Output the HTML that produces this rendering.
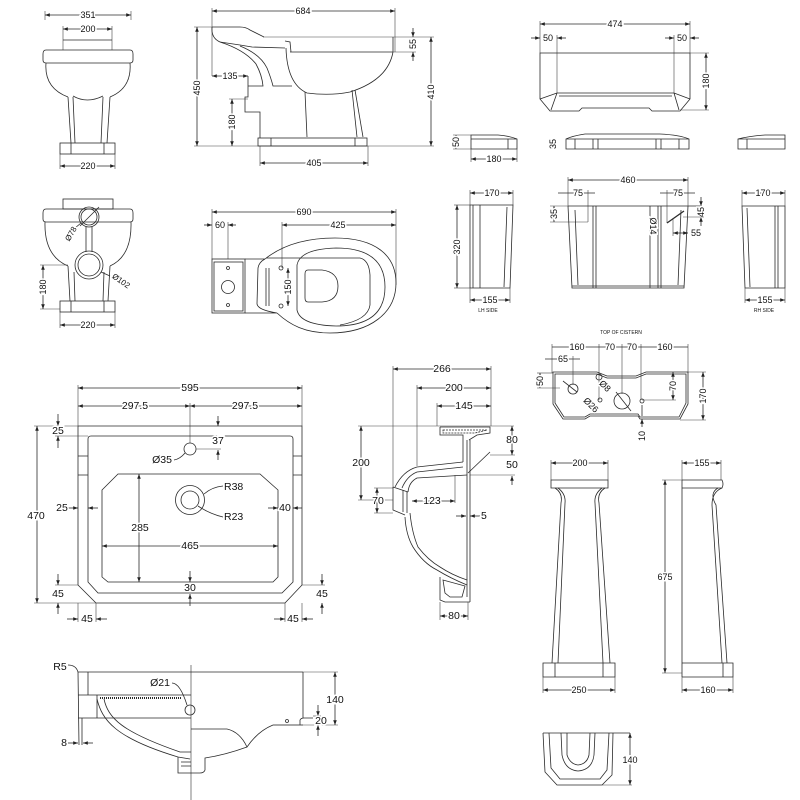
<!DOCTYPE html>
<html><head><meta charset="utf-8"><style>
html,body{margin:0;padding:0;background:#fff}
svg{display:block}
.o,.d,.a,.e{fill:none;stroke:#2a2a2a;stroke-width:.8}
.e{stroke:#444;stroke-width:.6}
.d{marker-start:url(#m);marker-end:url(#m)}
.a{marker-end:url(#m)}
text{font-family:"Liberation Sans",sans-serif;font-size:9px;fill:#111;text-anchor:middle;dominant-baseline:central;paint-order:stroke;stroke:#fff;stroke-width:3px}
.b text{font-size:10.5px}
text.s{font-size:5px;stroke-width:1px}
text.l{text-anchor:start}
</style></head><body>
<svg width="800" height="800" viewBox="0 0 800 800" xmlns="http://www.w3.org/2000/svg">
<defs><marker id="m" viewBox="0 0 8 6" refX="8" refY="3" markerWidth="5" markerHeight="3.6" orient="auto-start-reverse" markerUnits="userSpaceOnUse"><path d="M0,0L8,3L0,6z" fill="#222"/></marker></defs>

<!-- ===== Front WC (top-left) ===== -->
<line class="e" x1="45" y1="11" x2="45" y2="20"/><line class="e" x1="131" y1="11" x2="131" y2="20"/>
<line class="d" x1="45" y1="15" x2="131" y2="15"/><text x="88" y="15">351</text>
<line class="e" x1="63" y1="26" x2="63" y2="50"/><line class="e" x1="112" y1="26" x2="112" y2="50"/>
<line class="d" x1="63" y1="29" x2="112" y2="29"/><text x="88" y="29">200</text>
<line class="o" x1="63" y1="40" x2="112" y2="40"/>
<path class="o" d="M46,50 L130,50 Q133,50 133,54 L133,60 Q133,63 130,63 L46,63 Q43,63 43,60 L43,54 Q43,50 46,50 Z"/>
<path class="o" d="M46,63 Q44,88 68,97 M130,63 Q132,88 110,97 M73,96 Q87,104 103,96"/>
<path class="o" d="M68,97 L71,143 M73,97 L75,143 M103,97 L101,143 M110,97 L107,143"/>
<rect class="o" x="60" y="143" width="55" height="11"/>
<path class="o" d="M71,143 L71,154 M104,143 L104,154"/>
<line class="e" x1="60" y1="154" x2="60" y2="169"/><line class="e" x1="115" y1="154" x2="115" y2="169"/>
<line class="d" x1="60" y1="166" x2="115" y2="166"/><text x="88" y="166">220</text>

<!-- ===== Side WC ===== -->
<line class="e" x1="212" y1="8" x2="212" y2="76"/><line class="e" x1="395" y1="8" x2="395" y2="52"/>
<line class="d" x1="212" y1="11" x2="395" y2="11"/><text x="303" y="11">684</text>
<line class="e" x1="194" y1="27" x2="212" y2="27"/><line class="e" x1="194" y1="146" x2="434" y2="146"/>
<line class="d" x1="197" y1="27" x2="197" y2="146"/><text transform="translate(197,88) rotate(-90)">450</text>
<line class="e" x1="263" y1="37" x2="434" y2="37"/>
<line class="d" x1="431" y1="37" x2="431" y2="146"/><text transform="translate(431,92) rotate(-90)">410</text>
<line class="e" x1="393" y1="52" x2="416" y2="52"/>
<line class="a" x1="413" y1="28" x2="413" y2="37"/><line class="a" x1="413" y1="61" x2="413" y2="52"/>
<text transform="translate(413,44) rotate(-90)">55</text>
<line class="d" x1="212" y1="76" x2="248" y2="76"/><text x="230" y="76">135</text>
<line class="e" x1="229" y1="99" x2="248" y2="99"/>
<line class="d" x1="232" y1="99" x2="232" y2="146"/><text transform="translate(232,122) rotate(-90)">180</text>
<line class="e" x1="260" y1="146" x2="260" y2="166"/><line class="e" x1="368" y1="146" x2="368" y2="166"/>
<line class="d" x1="260" y1="163" x2="368" y2="163"/><text x="314" y="163">405</text>
<path class="o" d="M212,27 L240,27 Q246,27 250,30 L264,37"/>
<path class="o" d="M212,27 Q211,38 220,42 L240,45 L252,47 L285,48"/>
<path class="o" d="M285,41 L290,42 L291,52 M290,52 L393,52 M393,37 L393,52"/>
<path class="o" d="M220,42 Q245,50 256,64 Q262,75 263,86 L248,86"/>
<path class="o" d="M240,46 Q260,54 267,68 Q271,78 273,86 L292,86"/>
<path class="o" d="M286,48 Q287,84 307,93 Q330,96 350,92 Q388,80 393,52"/>
<polyline class="o" points="248,76 248,97 245,97 245,112 260,112 260,138"/>
<path class="o" d="M305,92 L307,137 M352,90 L357,137 M355,90 L363,137"/>
<rect class="o" x="258" y="138" width="109" height="8"/>
<path class="o" d="M271,138 L271,146 M355,138 L355,146"/>

<!-- ===== Front WC row2 ===== -->
<rect class="o" x="63" y="199" width="50" height="10"/>
<path class="o" d="M46,209 L130,209 Q133,209 133,213 L133,219 Q133,222 130,222 L46,222 Q43,222 43,219 L43,213 Q43,209 46,209 Z"/>
<path class="o" d="M45,222 Q44,256 68,266 M131,222 Q132,256 110,266"/>
<circle class="o" cx="89" cy="217" r="10"/><circle class="o" cx="89" cy="217" r="8"/>
<line class="o" x1="80" y1="226" x2="99" y2="207"/>
<path class="o" d="M86,227 L86,252 M92,227 L92,252"/>
<circle class="o" cx="89" cy="265" r="14"/><circle class="o" cx="89" cy="265" r="11"/>
<line class="o" x1="75" y1="228" x2="81" y2="223"/>
<text transform="translate(71,234) rotate(-60)" style="font-size:8px">Ø78</text>
<line class="o" x1="101" y1="272" x2="110" y2="276"/>
<text transform="translate(121,281) rotate(35)" style="font-size:8px">Ø102</text>
<path class="o" d="M68,266 L70,301 M74,272 L75,301 M110,266 L108,301 M104,272 L103,301"/>
<rect class="o" x="60" y="301" width="55" height="11"/>
<path class="o" d="M71,301 L71,312 M104,301 L104,312"/>
<line class="e" x1="40" y1="265" x2="68" y2="265"/><line class="e" x1="40" y1="309" x2="60" y2="309"/>
<line class="d" x1="43" y1="265" x2="43" y2="309"/><text transform="translate(43,287) rotate(-90)">180</text>
<line class="e" x1="60" y1="312" x2="60" y2="328"/><line class="e" x1="115" y1="312" x2="115" y2="328"/>
<line class="d" x1="60" y1="325" x2="115" y2="325"/><text x="88" y="325">220</text>

<!-- ===== Top view WC ===== -->
<line class="e" x1="212" y1="209" x2="212" y2="259"/><line class="e" x1="396" y1="209" x2="396" y2="285"/>
<line class="d" x1="212" y1="212" x2="396" y2="212"/><text x="304" y="212">690</text>
<line class="a" x1="204" y1="225" x2="212" y2="225"/><line class="a" x1="236" y1="225" x2="228" y2="225"/>
<text x="220" y="225">60</text>
<line class="e" x1="228" y1="222" x2="228" y2="259"/><line class="e" x1="282" y1="222" x2="282" y2="268"/>
<line class="d" x1="282" y1="225" x2="396" y2="225"/><text x="338" y="225">425</text>
<rect class="o" x="212" y="259" width="33" height="54"/>
<rect class="o" x="214" y="262" width="29" height="49"/>
<circle class="o" cx="228" cy="268" r="1.5"/><circle class="o" cx="228" cy="305" r="1.5"/><circle class="o" cx="228" cy="287" r="6.5"/>
<path class="o" d="M245,259 L265,259 Q259,262 258,268 L257,304 Q258,310 277,313 L245,313"/>
<path class="o" d="M265,259 C285,243 310,238 335,238 C375,238 396,255 396,283 C396,313 370,333 330,333 C305,333 290,325 277,313"/>
<path class="o" d="M266,258 L360,258 Q369,260 370,275 L370,305 Q368,320 340,325"/>
<path class="o" d="M297,265 Q300,249 336,248 Q385,248 385,287 Q385,326 336,326 Q300,325 297,310 Z"/>
<path class="o" d="M308,270 L322,270 Q338,272 338,286 Q338,301 322,302 L308,302 Q305,302 305,298 L305,274 Q305,270 308,270 Z"/>
<path class="o" d="M266,268 L266,306 M269,268 L269,306"/>
<circle class="o" cx="281" cy="268" r="2"/><circle class="o" cx="281" cy="306" r="2"/>
<line class="d" x1="288" y1="268" x2="288" y2="306"/><text transform="translate(288,287) rotate(-90)">150</text>

<!-- ===== Cistern front top-right ===== -->
<line class="e" x1="540" y1="21" x2="540" y2="53"/><line class="e" x1="690" y1="21" x2="690" y2="53"/>
<line class="d" x1="540" y1="24" x2="690" y2="24"/><text x="615" y="24">474</text>
<line class="a" x1="531" y1="38" x2="540" y2="38"/><line class="a" x1="566" y1="38" x2="557" y2="38"/><text x="548" y="38">50</text>
<line class="a" x1="665" y1="38" x2="674" y2="38"/><line class="a" x1="699" y1="38" x2="690" y2="38"/><text x="682" y="38">50</text>
<line class="e" x1="557" y1="35" x2="557" y2="93"/><line class="e" x1="674" y1="35" x2="674" y2="93"/>
<path class="o" d="M540,53 L690,53 L690,99 L680,111 L652,111 L649,108 L582,108 L579,111 L550,111 L540,99 Z"/>
<path class="o" d="M557,93 L674,93 M559,96 L672,96 M557,93 L540,99 M557,93 L551,110 M674,93 L690,99 M674,93 L679,110"/>
<line class="e" x1="690" y1="53" x2="709" y2="53"/><line class="e" x1="680" y1="110" x2="709" y2="110"/>
<line class="d" x1="706" y1="53" x2="706" y2="110"/><text transform="translate(706,81) rotate(-90)">180</text>

<!-- lids -->
<path class="o" d="M471,135 L498,135 Q510,136 517,139 L517,149 L471,149 Z M471,139 L517,139 M508,139 L508,149"/>
<line class="e" x1="453" y1="135" x2="471" y2="135"/><line class="e" x1="453" y1="149" x2="471" y2="149"/>
<line class="d" x1="456" y1="135" x2="456" y2="149"/><text transform="translate(456,142) rotate(-90)">50</text>
<line class="e" x1="471" y1="149" x2="471" y2="162"/><line class="e" x1="517" y1="149" x2="517" y2="162"/>
<line class="d" x1="471" y1="159" x2="517" y2="159"/><text x="494" y="159">180</text>
<path class="o" d="M566,139 L566,149 L689,149 L689,139 Q680,135 660,134 L585,134 Q572,136 566,139 Z M566,139 L689,139"/>
<path class="o" d="M575,139 L575,149 M593,139 L593,149 M598,139 L598,149 M656,139 L656,149 M661,139 L661,149 M679,139 L679,149"/>
<line class="d" x1="553" y1="139" x2="553" y2="149"/><text transform="translate(553,144) rotate(-90)">35</text>
<path class="o" d="M738,139 L738,149 L785,149 L785,135 L765,135 Q750,136 738,139 Z M738,139 L785,139 M747,139 L747,149"/>

<!-- ===== Cistern row 3 ===== -->
<line class="e" x1="470" y1="190" x2="470" y2="205"/><line class="e" x1="513" y1="190" x2="513" y2="205"/>
<line class="d" x1="470" y1="193" x2="513" y2="193"/><text x="492" y="193">170</text>
<path class="o" d="M470,205 L513,205 L510,288 L470,288 Z M473,205 L473,288 M480,205 L480,288 M507,207 L504,287"/>
<line class="e" x1="454" y1="205" x2="470" y2="205"/><line class="e" x1="454" y1="288" x2="470" y2="288"/>
<line class="d" x1="457" y1="205" x2="457" y2="288"/><text transform="translate(457,247) rotate(-90)">320</text>
<line class="e" x1="470" y1="288" x2="470" y2="303"/><line class="e" x1="510" y1="288" x2="510" y2="303"/>
<line class="d" x1="470" y1="300" x2="510" y2="300"/><text x="490" y="300">155</text>
<text class="s" x="488" y="311">LH SIDE</text>

<line class="e" x1="568" y1="177" x2="568" y2="206"/><line class="e" x1="688" y1="177" x2="688" y2="206"/>
<line class="d" x1="568" y1="180" x2="688" y2="180"/><text x="628" y="180">460</text>
<line class="o" x1="558" y1="193" x2="595" y2="193"/><text x="578" y="193">75</text>
<line class="o" x1="660" y1="193" x2="695" y2="193"/><text x="678" y="193">75</text>
<line class="e" x1="588" y1="190" x2="588" y2="222"/><line class="e" x1="667" y1="190" x2="667" y2="223"/>
<line class="e" x1="550" y1="206" x2="568" y2="206"/><line class="e" x1="550" y1="222" x2="588" y2="222"/>
<line class="d" x1="554" y1="206" x2="554" y2="222"/><text transform="translate(554,214) rotate(-90)">35</text>
<path class="o" d="M568,206 L700,206 M568,206 L572,288 L684,288 L688,206 M572,286 L684,286"/>
<path class="o" d="M593,206 L593,288 M596,206 L596,288 M650,206 L650,288 M658,206 L658,288 M661,206 L661,288"/>
<path class="o" d="M575,210 L578,285 M681,210 L678,285"/>
<line class="o" x1="667" y1="223" x2="684" y2="211" style="stroke-width:1.3"/>
<text transform="translate(653,226) rotate(90)">Ø14</text>
<line class="a" x1="701" y1="197" x2="701" y2="206"/><line class="a" x1="701" y1="226" x2="701" y2="217"/>
<text transform="translate(701,212) rotate(-90)">45</text>
<line class="e" x1="683" y1="217" x2="704" y2="217"/>
<line class="e" x1="673" y1="218" x2="673" y2="236"/>
<line class="d" x1="673" y1="233" x2="688" y2="233"/><text class="l" x="691" y="233">55</text>

<line class="e" x1="742" y1="190" x2="742" y2="206"/><line class="e" x1="785" y1="190" x2="785" y2="206"/>
<line class="d" x1="742" y1="193" x2="785" y2="193"/><text x="763" y="193">170</text>
<path class="o" d="M742,206 L785,206 L785,288 L745,288 Z M775,206 L775,288 M778,206 L778,288 M747,208 L750,287"/>
<line class="e" x1="745" y1="288" x2="745" y2="303"/><line class="e" x1="785" y1="288" x2="785" y2="303"/>
<line class="d" x1="745" y1="300" x2="785" y2="300"/><text x="765" y="300">155</text>
<text class="s" x="764" y="311">RH SIDE</text>

<!-- ===== Top of cistern ===== -->
<text class="s" x="621" y="333">TOP OF CISTERN</text>
<line class="e" x1="552" y1="344" x2="552" y2="373"/><line class="e" x1="599" y1="344" x2="599" y2="400"/>
<line class="e" x1="622" y1="344" x2="622" y2="394"/><line class="e" x1="641" y1="344" x2="641" y2="400"/>
<line class="e" x1="688" y1="344" x2="688" y2="373"/>
<line class="o" x1="552" y1="347" x2="688" y2="347"/>
<text x="577" y="347">160</text><text x="610" y="347">70</text><text x="632" y="347">70</text><text x="665" y="347">160</text>
<line class="o" x1="545" y1="359" x2="580" y2="359"/><text x="563" y="359">65</text>
<line class="e" x1="573" y1="356" x2="573" y2="385"/>
<line class="e" x1="537" y1="373" x2="553" y2="373"/><line class="e" x1="537" y1="388" x2="560" y2="388"/>
<line class="d" x1="540" y1="373" x2="540" y2="388"/><text transform="translate(540,381) rotate(-90)">50</text>
<path class="o" d="M553,372 L597,372 L607,376 L636,376 L646,372 L688,372 L688,404 L680,419 L640,419 L638,416 L590,416 L585,419 L563,419 L553,404 Z"/>
<path class="o" d="M555,374 L597,374 L607,378 L636,378 L646,374 L686,374 L686,403 L679,417 L640,417 L638,414 L590,414 L585,417 L564,417 L555,403 Z"/>
<circle class="o" cx="599" cy="377" r="3"/><circle class="o" cx="573" cy="389" r="5"/>
<circle class="o" cx="600" cy="400" r="2"/><circle class="o" cx="622" cy="401" r="8"/><circle class="o" cx="642" cy="401" r="2"/>
<line class="o" x1="563" y1="381" x2="577" y2="392"/><line class="o" x1="616" y1="392" x2="631" y2="411"/>
<text transform="translate(605,386) rotate(45)">Ø8</text>
<text transform="translate(591,405) rotate(45)">Ø26</text>
<line class="e" x1="642" y1="400" x2="676" y2="400"/>
<line class="d" x1="673" y1="372" x2="673" y2="400"/><text transform="translate(673,386) rotate(-90)">70</text>
<line class="e" x1="688" y1="372" x2="706" y2="372"/><line class="e" x1="680" y1="420" x2="706" y2="420"/>
<line class="d" x1="703" y1="372" x2="703" y2="420"/><text transform="translate(703,396) rotate(-90)">170</text>
<line class="a" x1="642" y1="427" x2="642" y2="419"/><line class="o" x1="642" y1="405" x2="642" y2="416"/>
<text transform="translate(642,436) rotate(-90)">10</text>

<!-- ===== Pedestal front ===== -->
<line class="e" x1="551" y1="460" x2="551" y2="480"/><line class="e" x1="608" y1="460" x2="608" y2="480"/>
<line class="d" x1="551" y1="463" x2="608" y2="463"/><text x="580" y="463">200</text>
<path class="o" d="M551,480 L608,480 L608,488 L551,488 Z"/>
<path class="o" d="M555,488 Q563,493 561,503 L552,663 M558,488 Q566,494 565,503 L558,663"/>
<path class="o" d="M605,488 Q597,493 599,503 L610,663 M602,488 Q594,494 595,503 L603,663"/>
<path class="o" d="M543,663 L615,663 L615,677 L543,677 Z M555,663 L555,677 M603,663 L603,677"/>
<line class="e" x1="543" y1="677" x2="543" y2="693"/><line class="e" x1="615" y1="677" x2="615" y2="693"/>
<line class="d" x1="543" y1="690" x2="615" y2="690"/><text x="579" y="690">250</text>

<!-- ===== Pedestal side ===== -->
<line class="e" x1="682" y1="460" x2="682" y2="480"/><line class="e" x1="721" y1="460" x2="721" y2="480"/>
<line class="d" x1="682" y1="463" x2="721" y2="463"/><text x="702" y="463">155</text>
<path class="o" d="M682,480 L722,480 Q724,484 722,488 L682,488 M682,480 L682,677"/>
<path class="o" d="M722,488 Q712,492 712,505 L722,663 M718,488 Q709,493 716,505 L727,663"/>
<path class="o" d="M682,663 L733,663 L733,677 L682,677 M723,663 L723,677"/>
<line class="e" x1="662" y1="480" x2="682" y2="480"/><line class="e" x1="662" y1="673" x2="682" y2="673"/>
<line class="d" x1="665" y1="480" x2="665" y2="673"/><text x="665" y="577">675</text>
<line class="e" x1="682" y1="677" x2="682" y2="693"/><line class="e" x1="733" y1="677" x2="733" y2="693"/>
<line class="d" x1="682" y1="690" x2="733" y2="690"/><text x="708" y="690">160</text>

<!-- ===== Pedestal bottom view ===== -->
<line class="o" x1="543" y1="733" x2="630" y2="733"/>
<path class="o" d="M543,733 L545,772 L557,785 L602,785 L612,775 L613,733"/>
<path class="o" d="M549,733 L551,768 L560,779 L600,779 L607,770 L609,733"/>
<path class="o" d="M561,733 L562,755 Q565,770 578,771 Q592,770 594,755 L595,733"/>
<path class="o" d="M567,733 L567,755 Q570,764 578,765 Q587,764 589,755 L590,733"/>
<line class="e" x1="602" y1="785" x2="632" y2="785"/>
<line class="d" x1="630" y1="733" x2="630" y2="785"/><text x="630" y="760">140</text>

<g class="b">
<!-- ===== Basin top view ===== -->
<line class="e" x1="78" y1="385" x2="78" y2="426"/><line class="e" x1="302" y1="385" x2="302" y2="426"/>
<line class="d" x1="78" y1="388" x2="302" y2="388"/><text x="190" y="388">595</text>
<line class="d" x1="78" y1="406" x2="190" y2="406"/><line class="d" x1="190" y1="406" x2="302" y2="406"/>
<text x="135" y="406">297.5</text><text x="245" y="406">297.5</text>
<line class="e" x1="190" y1="403" x2="190" y2="443"/>
<path class="o" d="M78,426 L302,426 L302,585 L285,603 L96,603 L78,585 Z"/>
<path class="o" d="M91,436 L290,436 Q293,436 293,439 L293,582 L282,593 L98,593 L88,582 L88,439 Q88,436 91,436 Z"/>
<path class="o" d="M78,456 L88,456 M78,475 L88,475 M293,456 L302,456 M293,475 L302,475"/>
<path class="o" d="M118,474 L260,474 L278,490 L278,577 L273,582 L108,582 L102,577 L102,490 Z"/>
<circle class="o" cx="190" cy="449" r="6"/>
<line class="a" x1="218" y1="416" x2="218" y2="426"/><line class="a" x1="218" y1="460" x2="218" y2="450"/>
<line class="e" x1="196" y1="449" x2="221" y2="449"/>
<text x="218" y="441">37</text>
<text x="162" y="460">Ø35</text>
<path class="o" d="M174,460 Q180,459 185,453"/>
<circle class="o" cx="190" cy="500" r="14.5"/><circle class="o" cx="190" cy="500" r="9"/>
<path class="o" d="M204,494 Q212,487 223,486 M198,506 Q210,514 223,517"/>
<text class="l" x="224" y="487">R38</text><text class="l" x="224" y="517">R23</text>
<line class="a" x1="68" y1="508" x2="78" y2="508"/><line class="a" x1="98" y1="508" x2="88" y2="508"/>
<text x="62" y="508">25</text>
<line class="a" x1="268" y1="508" x2="278" y2="508"/><line class="a" x1="302" y1="508" x2="293" y2="508"/>
<text x="285" y="508">40</text>
<line class="d" x1="139" y1="474" x2="139" y2="582"/><text x="140" y="528">285</text>
<line class="d" x1="102" y1="546" x2="278" y2="546"/><text x="190" y="546">465</text>
<line class="a" x1="190" y1="571" x2="190" y2="582"/><line class="a" x1="190" y1="606" x2="190" y2="594"/>
<text x="190" y="588">30</text>
<line class="e" x1="34" y1="426" x2="78" y2="426"/><line class="e" x1="34" y1="603" x2="96" y2="603"/>
<line class="d" x1="37" y1="426" x2="37" y2="603"/><text x="36" y="516">470</text>
<line class="e" x1="55" y1="436" x2="88" y2="436"/>
<line class="a" x1="58" y1="414" x2="58" y2="426"/><line class="a" x1="58" y1="448" x2="58" y2="436"/>
<text x="58" y="431">25</text>
<line class="e" x1="55" y1="585" x2="78" y2="585"/>
<line class="a" x1="58" y1="574" x2="58" y2="585"/><line class="a" x1="58" y1="614" x2="58" y2="603"/>
<text x="58" y="594">45</text>
<line class="e" x1="78" y1="603" x2="78" y2="622"/><line class="e" x1="96" y1="603" x2="96" y2="622"/>
<line class="a" x1="67" y1="619" x2="78" y2="619"/><line class="a" x1="107" y1="619" x2="96" y2="619"/>
<text x="87" y="619">45</text>
<line class="e" x1="302" y1="585" x2="325" y2="585"/>
<line class="a" x1="322" y1="574" x2="322" y2="585"/><line class="a" x1="322" y1="614" x2="322" y2="603"/>
<text x="322" y="594">45</text>
<line class="e" x1="285" y1="603" x2="285" y2="622"/><line class="e" x1="302" y1="603" x2="302" y2="622"/>
<line class="a" x1="274" y1="619" x2="285" y2="619"/><line class="a" x1="313" y1="619" x2="302" y2="619"/>
<text x="293" y="619">45</text>

<!-- ===== Basin side section ===== -->
<line class="e" x1="393" y1="366" x2="393" y2="488"/><line class="e" x1="491" y1="366" x2="491" y2="426"/>
<line class="d" x1="393" y1="369" x2="491" y2="369"/><text x="442" y="369">266</text>
<line class="e" x1="417" y1="385" x2="417" y2="466"/>
<line class="d" x1="417" y1="388" x2="491" y2="388"/><text x="454" y="388">200</text>
<line class="e" x1="437" y1="403" x2="437" y2="426"/>
<line class="d" x1="437" y1="406" x2="491" y2="406"/><text x="464" y="406">145</text>
<line class="e" x1="358" y1="426" x2="514" y2="426"/>
<line class="e" x1="358" y1="500" x2="393" y2="500"/>
<line class="d" x1="361" y1="426" x2="361" y2="500"/><text x="361" y="463">200</text>
<line class="e" x1="374" y1="488" x2="393" y2="488"/><line class="e" x1="374" y1="513" x2="393" y2="513"/>
<line class="d" x1="377" y1="488" x2="377" y2="513"/><text x="378" y="501">70</text>
<line class="e" x1="490" y1="455" x2="515" y2="455"/>
<line class="d" x1="512" y1="426" x2="512" y2="455"/><text x="512" y="440">80</text>
<line class="e" x1="470" y1="475" x2="515" y2="475"/>
<line class="a" x1="512" y1="485" x2="512" y2="476"/><text x="512" y="465">50</text>
<line class="e" x1="455" y1="475" x2="455" y2="503"/>
<line class="d" x1="412" y1="501" x2="455" y2="501"/><text x="432" y="501">123</text>
<line class="a" x1="456" y1="516" x2="466" y2="516"/><line class="a" x1="480" y1="516" x2="470" y2="516"/>
<text class="l" x="481" y="516">5</text>
<path class="o" d="M440,427 L490,427 L490,433 L477,435 L469,440 M440,427 L440,435 L463,435 L463,462"/>
<path class="o" d="M443,430 L487,430 L475,433 L443,433 Z" style="stroke-dasharray:2 1"/>
<path class="o" d="M467,440 L467,597 M470,440 L470,602"/>
<line class="o" x1="490" y1="452" x2="468" y2="473"/>
<path class="o" d="M463,462 L417,467 Q403,471 395,487"/>
<path class="o" d="M463,467 L417,472 Q407,476 402,488"/>
<path class="o" d="M467,475 L417,478 Q409,482 408,492"/>
<path class="o" d="M393,487 L393,510 L405,515 M403,490 L403,512 M407,492 L407,513 M393,487 L408,492"/>
<path class="o" d="M405,517 Q406,535 413,547 Q423,563 437,570 Q450,578 467,585"/>
<path class="o" d="M410,513 Q412,533 418,547 Q428,560 440,567 Q452,575 467,580"/>
<path class="o" d="M440,577 L440,600 L445,602 L470,602 M443,580 L445,593 L450,597 L462,597 L465,586 Z"/>
<line class="e" x1="440" y1="602" x2="440" y2="620"/><line class="e" x1="468" y1="602" x2="468" y2="620"/>
<line class="d" x1="440" y1="616" x2="468" y2="616"/><text x="454" y="616">80</text>

<!-- ===== Basin front section ===== -->
<text x="60" y="667">R5</text>
<path class="o" d="M68,665 Q76,665 78,672"/>
<line class="o" x1="78" y1="672" x2="303" y2="672"/>
<line class="e" x1="303" y1="672" x2="338" y2="672"/>
<path class="o" d="M78,672 L79,745 M88,672 L88,695 M78,695 L191,695 M97,695 L97,718 M78,718 L191,718 M82,718 L82,745"/>
<line class="o" x1="100" y1="698" x2="182" y2="698" style="stroke-dasharray:1 1;stroke-width:2"/>
<path class="o" d="M97,699 C102,720 115,738 178,757 L190,759 M104,699 C108,718 122,732 180,752 L191,752"/>
<path class="o" d="M178,757 L178,773 L191,773 M181,762 L191,762 M181,766 L191,766"/>
<line class="o" x1="191" y1="665" x2="191" y2="800" style="stroke-width:.6"/>
<path class="o" d="M191,729 L227,729 Q240,732 247,747 Q258,731 273,725 L303,725 M247,747 Q225,755 205,758 L205,770 Q204,773 200,773 L191,773"/>
<path class="o" d="M303,672 L303,718 M300,725 L300,720 Q301,718 304,718 L313,718"/>
<circle class="o" cx="287" cy="721" r="1.5"/>
<text x="160" y="683">Ø21</text>
<path class="o" d="M172,683 Q180,683 187,705"/>
<circle class="o" cx="190" cy="710" r="5"/>
<line class="e" x1="273" y1="725" x2="338" y2="725"/>
<line class="d" x1="335" y1="672" x2="335" y2="725"/><text x="335" y="700">140</text>
<line class="e" x1="313" y1="716" x2="321" y2="716"/>
<line class="a" x1="318" y1="705" x2="318" y2="716"/><line class="a" x1="318" y1="736" x2="318" y2="725"/>
<text x="321" y="721">20</text>
<line class="a" x1="68" y1="743" x2="78" y2="743"/><line class="a" x1="93" y1="743" x2="83" y2="743"/>
<text x="64" y="743">8</text>
</g>
</svg>
</body></html>
